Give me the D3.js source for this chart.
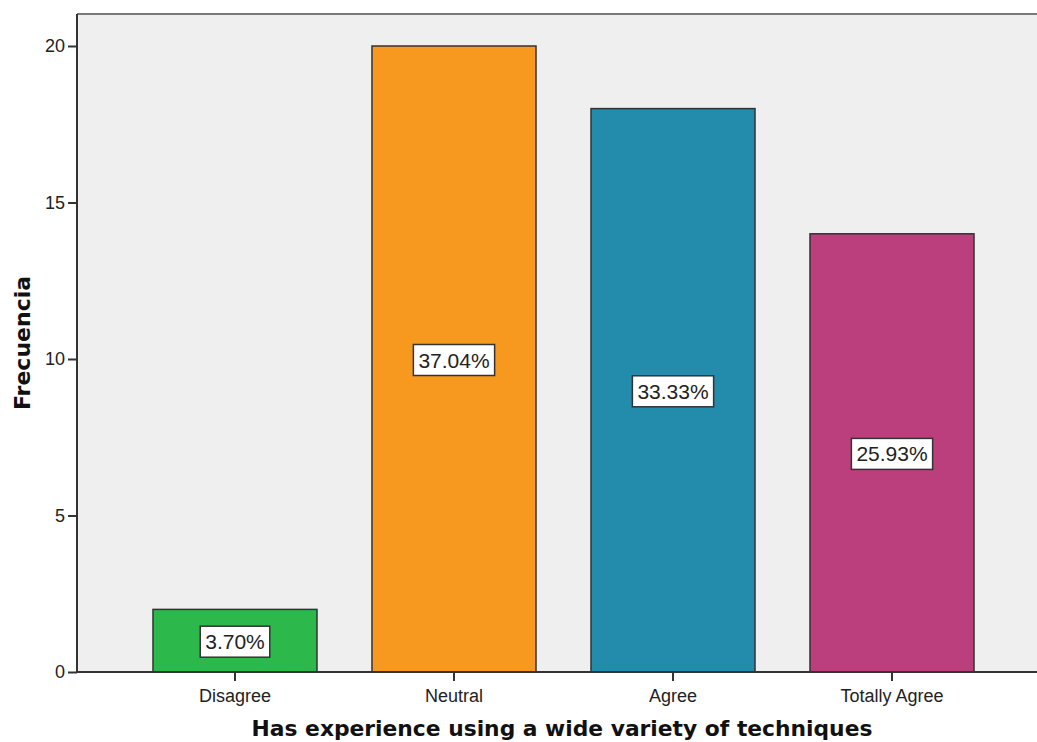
<!DOCTYPE html>
<html><head><meta charset="utf-8">
<script src="https://cdn.jsdelivr.net/npm/d3@7"></script>
<style>body{margin:0;background:#fff;} svg{display:block;}</style>
</head><body>
<svg id="chart" width="1037" height="742"></svg>
<script>
const categories = ["Disagree", "Neutral", "Agree", "Totally Agree"];
const counts = [2, 20, 18, 14];
const percentLabels = ["3.70%", "37.04%", "33.33%", "25.93%"];
const colors = ["#2db84b", "#f7991e", "#238bac", "#bb3f7c"];
const yTicks = [0, 5, 10, 15, 20];
const xTitle = "Has experience using a wide variety of techniques";
const yTitle = "Frecuencia";

(function () {
const svg = d3.select("#chart");
const left = 77, plotTop = 14, bottom = 672;
const y = d3.scaleLinear().domain([0, 20]).range([bottom, 46]);
const x = d3.scaleBand().domain(categories).range([left, 1050])
  .paddingInner(0.2511).paddingOuter(0.347);

svg.append("rect").attr("x", left).attr("y", plotTop).attr("width", 1037 - left + 5).attr("height", bottom - plotTop)
  .attr("fill", "#efefef");
svg.append("line").attr("x1", left).attr("x2", 1040).attr("y1", plotTop).attr("y2", plotTop)
  .attr("stroke", "#7a7a7a").attr("stroke-width", 2);

svg.selectAll(".bar").data(categories).enter().append("rect")
  .attr("x", d => x(d)).attr("width", x.bandwidth())
  .attr("y", (d, i) => y(counts[i])).attr("height", (d, i) => y(0) - y(counts[i]))
  .attr("fill", (d, i) => colors[i]).attr("stroke", "#333").attr("stroke-width", 1.5);

const yAxis = d3.axisLeft(y).tickValues(yTicks).tickSize(9).tickPadding(3);
const gy = svg.append("g").attr("transform", `translate(${left},0)`).call(yAxis);
gy.select(".domain").attr("stroke", "#333").attr("stroke-width", 2).attr("d", `M0,${plotTop}V${bottom}`);
gy.selectAll(".tick line").attr("stroke", "#333").attr("stroke-width", 2);
gy.selectAll(".tick text").attr("font-family", "Liberation Sans, Arial, sans-serif").attr("font-size", 18).attr("fill", "#222");

const xAxis = d3.axisBottom(x).tickSize(9).tickPadding(8);
const gx = svg.append("g").attr("transform", `translate(0,${bottom})`).call(xAxis);
gx.select(".domain").attr("stroke", "#333").attr("stroke-width", 2).attr("d", `M${left},0H1040`);
gx.selectAll(".tick line").attr("stroke", "#333").attr("stroke-width", 2);
gx.selectAll(".tick text").attr("font-family", "Liberation Sans, Arial, sans-serif").attr("font-size", 18).attr("fill", "#222");

const lab = svg.selectAll(".lab").data(categories).enter().append("g")
  .attr("transform", (d, i) => `translate(${x(d) + x.bandwidth() / 2},${y(counts[i] / 2) + 1})`);
lab.append("text").attr("text-anchor", "middle").attr("dy", "0.36em")
  .attr("font-family", "Liberation Sans, Arial, sans-serif").attr("font-size", 21).attr("fill", "#222")
  .text((d, i) => percentLabels[i]);
lab.each(function () {
  const g = d3.select(this);
  const bb = g.select("text").node().getBBox();
  g.insert("rect", "text").attr("x", bb.x - 5).attr("y", -15.5).attr("width", bb.width + 10).attr("height", 31)
    .attr("fill", "#fff").attr("stroke", "#333").attr("stroke-width", 1.5);
});

svg.append("text").attr("x", 562).attr("y", 736).attr("text-anchor", "middle")
  .attr("font-family", "DejaVu Sans, sans-serif").attr("font-weight", "bold").attr("font-size", 21.8)
  .attr("fill", "#111").text(xTitle);
svg.append("text").attr("transform", "translate(30,343) rotate(-90)").attr("text-anchor", "middle")
  .attr("font-family", "DejaVu Sans, sans-serif").attr("font-weight", "bold").attr("font-size", 22)
  .attr("fill", "#111").text(yTitle);
})();
</script>
</body></html>
